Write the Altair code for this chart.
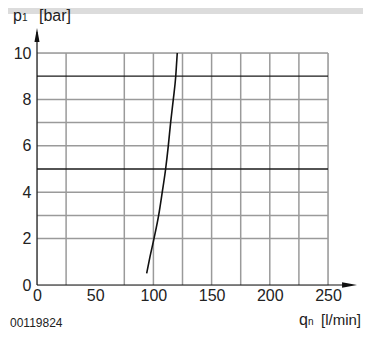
import altair as alt
import pandas as pd

x_ticks = [0, 50, 100, 150, 200, 250]
y_ticks = [0, 2, 4, 6, 8, 10]
v_grid = [25, 75, 100, 125, 150, 175, 200, 225, 250]
h_grid_light = [2, 3, 4, 6, 7, 8, 10]
h_grid_dark = [5, 9]
curve_q = [94.2, 97.0, 100.5, 104.5, 107.6, 110.5, 112.8, 114.8, 117.1, 119.2, 120.5]
curve_p = [0.5, 1.2, 2, 3, 4, 5, 6, 7, 8, 9, 10]

FONT = "Liberation Sans"
W, H = 291, 232

xs = alt.Scale(domain=[0, 250], nice=False, zero=False)
ys = alt.Scale(domain=[0, 10], nice=False, zero=False)

base = alt.Chart(pd.DataFrame({"a": [0]}))

vg = alt.Chart(pd.DataFrame({"q": v_grid, "y0": [0] * len(v_grid), "y1": [10] * len(v_grid)})).mark_rule(
    color="#9a9a9a", strokeWidth=1.5).encode(
    x=alt.X("q:Q", scale=xs, axis=alt.Axis(values=x_ticks, domain=False, ticks=False, grid=False,
                                             labelFont=FONT, labelFontSize=16, labelColor="#222",
                                             labelPadding=2, labelFlush=False, labelOverlap=False,
                                             title=None)),
    y=alt.Y("y0:Q", scale=ys, axis=alt.Axis(values=y_ticks, domain=False, ticks=False, grid=False,
                                              labelFont=FONT, labelFontSize=16, labelColor="#222",
                                              labelPadding=6, labelFlush=False, labelOverlap=False,
                                              title=None)),
    y2="y1:Q")

hl = alt.Chart(pd.DataFrame({"p": h_grid_light, "x0": [0] * len(h_grid_light), "x1": [250] * len(h_grid_light)})).mark_rule(
    color="#9a9a9a", strokeWidth=1.5).encode(
    y=alt.Y("p:Q", scale=ys), x=alt.X("x0:Q", scale=xs), x2="x1:Q")

hd = alt.Chart(pd.DataFrame({"p": h_grid_dark, "x0": [0] * len(h_grid_dark), "x1": [250] * len(h_grid_dark)})).mark_rule(
    color="#1a1a1a", strokeWidth=1.3).encode(
    y=alt.Y("p:Q", scale=ys), x=alt.X("x0:Q", scale=xs), x2="x1:Q")

yaxis_line = alt.Chart(pd.DataFrame({"x": [0], "y0": [0], "y1": [10.9]})).mark_rule(
    color="#111", strokeWidth=1.2, clip=False).encode(
    x=alt.X("x:Q", scale=xs), y=alt.Y("y0:Q", scale=ys), y2="y1:Q")

xaxis_line = alt.Chart(pd.DataFrame({"y": [0], "x0": [0], "x1": [270]})).mark_rule(
    color="#111", strokeWidth=1.2, clip=False).encode(
    y=alt.Y("y:Q", scale=ys), x=alt.X("x0:Q", scale=xs), x2="x1:Q")

yarrow = alt.Chart(pd.DataFrame({"x": [0], "y": [10.78]})).mark_point(
    shape="M0,-1L0.36,1L-0.36,1Z", filled=True, color="#111", opacity=1, size=196, clip=False).encode(
    x=alt.X("x:Q", scale=xs), y=alt.Y("y:Q", scale=ys))

xarrow = alt.Chart(pd.DataFrame({"x": [268.5], "y": [0]})).mark_point(
    shape="M1,0L-1,-0.36L-1,0.36Z", filled=True, color="#111", opacity=1, size=225, clip=False).encode(
    x=alt.X("x:Q", scale=xs), y=alt.Y("y:Q", scale=ys))

curve = alt.Chart(pd.DataFrame({"q": curve_q, "p": curve_p})).mark_line(
    color="#111", strokeWidth=1.6, interpolate="monotone").encode(
    x=alt.X("q:Q", scale=xs), y=alt.Y("p:Q", scale=ys), order="p:Q")

band = base.mark_rect(color="#dcdcdc").encode(
    x=alt.value(-29), x2=alt.value(326), y=alt.value(-45), y2=alt.value(-39))


def txt(s, x, y, size=16, align="left"):
    return base.mark_text(text=s, font=FONT, fontSize=size, color="#222", align=align,
                          baseline="alphabetic").encode(x=alt.value(x), y=alt.value(y))


labels = [
    txt("p", -24, -32),
    txt("1", -15, -32, size=10),
    txt("[bar]", 2, -32),
    txt("q", 262, 272),
    txt("n", 271, 272, size=10),
    txt("[l/min]", 324, 272, size=15, align="right"),
    txt("00119824", -27, 274, size=12),
]

chart = alt.layer(band, vg, hl, hd, curve, yaxis_line, xaxis_line, yarrow, xarrow, *labels).properties(
    width=W, height=H,
    autosize=alt.AutoSizeParams(type="none"),
    padding={"left": 29, "top": 45, "right": 35, "bottom": 50},
).configure_view(stroke=None).configure(background="white")

chart.save("out.html", embed_options={"renderer": "svg", "actions": False})
